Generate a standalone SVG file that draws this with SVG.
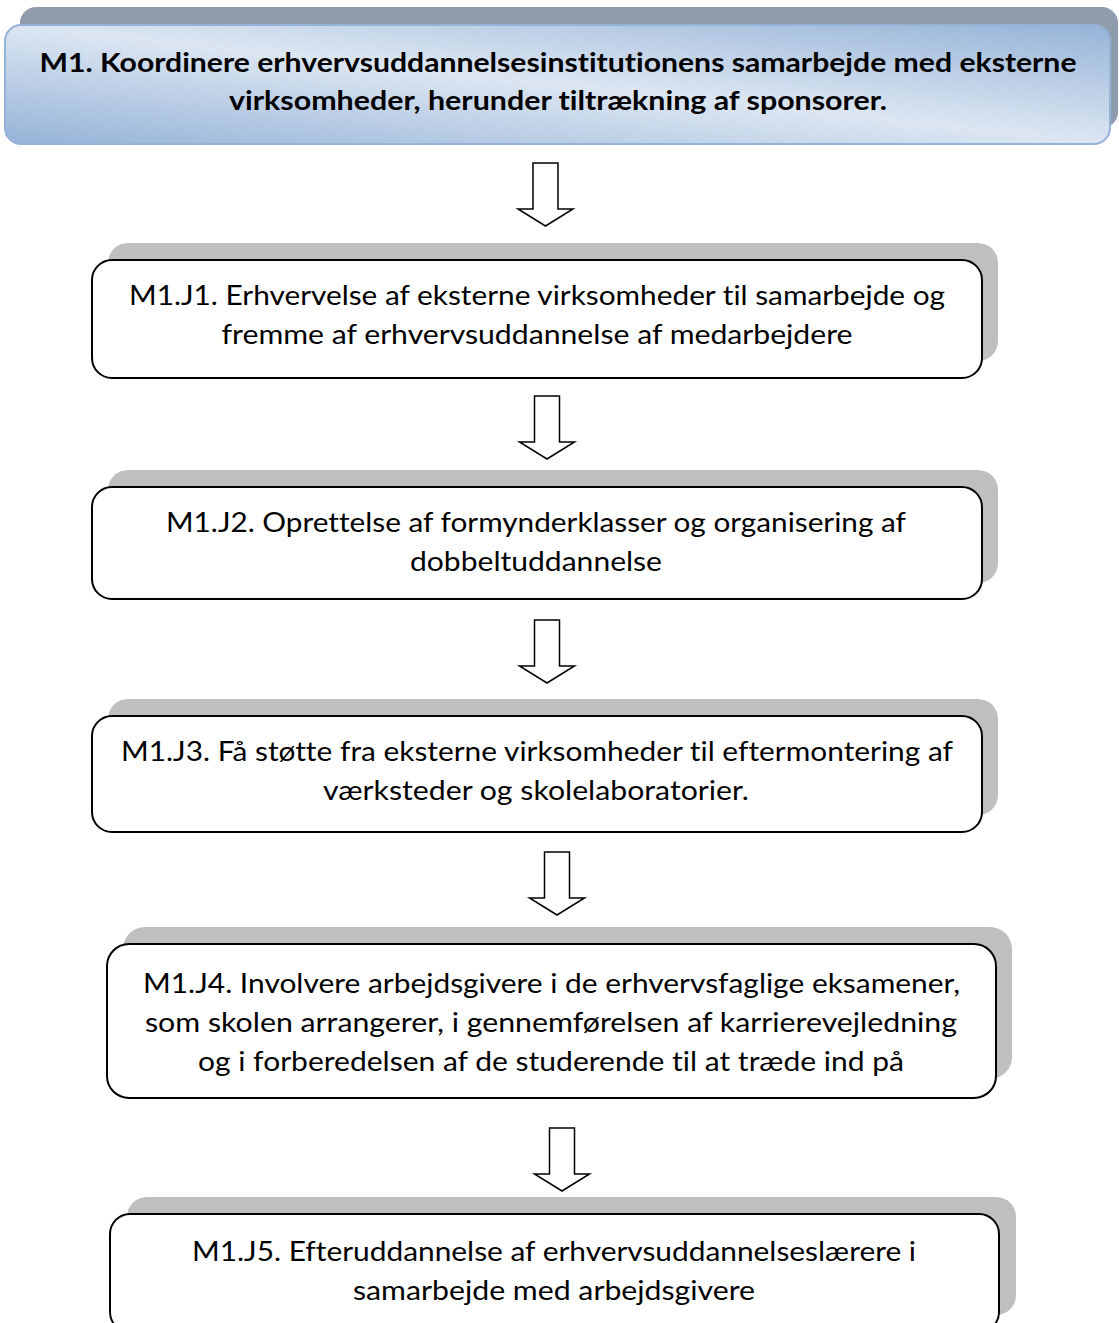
<svg xmlns="http://www.w3.org/2000/svg" width="1119" height="1323" viewBox="0 0 1119 1323">
<style>
.t{font-family:Lato,"Open Sans","Liberation Sans",sans-serif;font-size:27px;fill:#000;text-anchor:middle;font-variant-ligatures:none;font-feature-settings:"liga" 0,"clig" 0}
.b{font-weight:700}
.sh{fill:#bfbfbf}
.box{fill:#fff;stroke:#000;stroke-width:2}
.arr{fill:#fff;stroke:#000;stroke-width:1.5;stroke-linejoin:miter}
</style>
<defs>
<linearGradient id="g" x1="0" y1="1" x2="1" y2="0">
<stop offset="0" stop-color="#95b3d7"/>
<stop offset="0.5" stop-color="#dce6f2"/>
<stop offset="1" stop-color="#95b3d7"/>
</linearGradient>
<path id="ar" d="M-12.5,0 H12.5 V46 H27.5 L0,63 L-27.5,46 H-12.5 Z"/>
</defs>
<rect width="1119" height="1323" fill="#fff"/>
<g id="m1">
<rect x="20" y="7" width="1098" height="121" rx="16" fill="#8f9cad"/>
<rect x="5" y="25" width="1105" height="119" rx="16" fill="url(#g)" stroke="#95b3d7" stroke-width="2"/>
<text class="t b" x="558" y="72" textLength="1037" lengthAdjust="spacingAndGlyphs">M1. Koordinere erhvervsuddannelsesinstitutionens samarbejde med eksterne</text>
<text class="t b" x="558" y="110" textLength="658" lengthAdjust="spacingAndGlyphs">virksomheder, herunder tiltrækning af sponsorer.</text>
</g>
<g id="j1">
<rect class="sh" x="108" y="243" width="890" height="118" rx="20"/>
<rect class="box" x="92" y="260" width="890" height="118" rx="20"/>
<text class="t" x="537" y="305" textLength="816" lengthAdjust="spacingAndGlyphs">M1.J1. Erhvervelse af eksterne virksomheder til samarbejde og</text>
<text class="t" x="537" y="344" textLength="631" lengthAdjust="spacingAndGlyphs">fremme af erhvervsuddannelse af medarbejdere</text>
</g>
<g id="j2">
<rect class="sh" x="108" y="470" width="890" height="113" rx="20"/>
<rect class="box" x="92" y="487" width="890" height="112" rx="20"/>
<text class="t" x="536" y="532" textLength="740" lengthAdjust="spacingAndGlyphs">M1.J2. Oprettelse af formynderklasser og organisering af</text>
<text class="t" x="536" y="571" textLength="252" lengthAdjust="spacingAndGlyphs">dobbeltuddannelse</text>
</g>
<g id="j3">
<rect class="sh" x="108" y="699" width="890" height="116" rx="20"/>
<rect class="box" x="92" y="716" width="890" height="116" rx="20"/>
<text class="t" x="537" y="761" textLength="832" lengthAdjust="spacingAndGlyphs">M1.J3. Få støtte fra eksterne virksomheder til eftermontering af</text>
<text class="t" x="536" y="800" textLength="426" lengthAdjust="spacingAndGlyphs">værksteder og skolelaboratorier.</text>
</g>
<g id="j4">
<rect class="sh" x="123" y="927" width="889" height="152" rx="22"/>
<rect class="box" x="107" y="944" width="889" height="154" rx="22"/>
<text class="t" x="551.5" y="993" textLength="817" lengthAdjust="spacingAndGlyphs">M1.J4. Involvere arbejdsgivere i de erhvervsfaglige eksamener,</text>
<text class="t" x="551" y="1032" textLength="812" lengthAdjust="spacingAndGlyphs">som skolen arrangerer, i gennemførelsen af karrierevejledning</text>
<text class="t" x="551" y="1071" textLength="706" lengthAdjust="spacingAndGlyphs">og i forberedelsen af de studerende til at træde ind på</text>
</g>
<g id="j5">
<rect class="sh" x="127" y="1197" width="889" height="118" rx="20"/>
<rect class="box" x="110" y="1214" width="889" height="118" rx="20"/>
<text class="t" x="554" y="1261" textLength="724" lengthAdjust="spacingAndGlyphs">M1.J5. Efteruddannelse af erhvervsuddannelseslærere i</text>
<text class="t" x="554" y="1300" textLength="402" lengthAdjust="spacingAndGlyphs">samarbejde med arbejdsgivere</text>
</g>
<g id="connectors">
<use href="#ar" class="arr" x="545.5" y="163"/>
<use href="#ar" class="arr" x="547" y="396"/>
<use href="#ar" class="arr" x="547" y="620"/>
<use href="#ar" class="arr" x="557" y="852"/>
<use href="#ar" class="arr" x="562" y="1128"/>
</g>
</svg>
